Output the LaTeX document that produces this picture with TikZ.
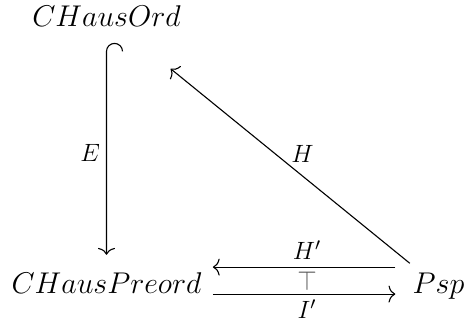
\documentclass[tikz,border=0pt]{standalone}
\usepackage{fix-cm}
\usetikzlibrary{arrows.meta,calc}
\tikzset{
  obj/.style={font=\fontsize{15}{18}\selectfont, inner sep=3pt},
  lbl/.style={font=\fontsize{12.5}{15}\selectfont},
  arr/.style={line width=0.55pt, -{Computer Modern Rightarrow[length=3.4pt,width=8.5pt]}},
  adjsym/.style={text=black!65, font=\fontsize{12.5}{14}\selectfont, inner sep=0pt}
}
\begin{document}
\begin{tikzpicture}[x=0.5pt,y=0.5pt]
\useasboundingbox (0,0) rectangle (465,325);
\node[obj, anchor=base] (ord) at (106.5,298) {$CHausOrd$};
\node[obj, anchor=base] (pre) at (106.5,31) {$CHausPreord$};
\node[obj, anchor=base] (psp) at (438.5,31) {$Psp$};
% inclusion E
\draw[arr] ([xshift=8pt,yshift=-9pt]ord.south) arc[start angle=0,end angle=180,radius=4pt]
  -- node[lbl, midway, left, inner sep=3pt] {$E$} ([yshift=6pt]pre.north);
% H
\draw[arr, shorten <=3pt, shorten >=28pt] (psp) -- node[lbl, pos=0.39, above=3pt] {$H$} (ord);
% H'
\draw[arr, shorten <=5.5pt, shorten >=2.5pt] ([yshift=8.25pt]pre.east -| psp.west) -- node[lbl, midway, above, inner sep=3.5pt] {$H'$} ([yshift=8.25pt]pre.east);
% I'
\draw[arr, shorten <=2.5pt, shorten >=5.5pt] ([yshift=-5.25pt]pre.east) -- node[lbl, midway, below, inner sep=2.5pt] {$I'$} ([yshift=-5.25pt]pre.east -| psp.west);
% adjunction symbol
\node[adjsym] (adj) at ($([yshift=1.2pt]pre.east)!0.5!([yshift=1.2pt]pre.east -| psp.west)$) {\scalebox{1}[1.1]{$\top$}};
\end{tikzpicture}
\end{document}
